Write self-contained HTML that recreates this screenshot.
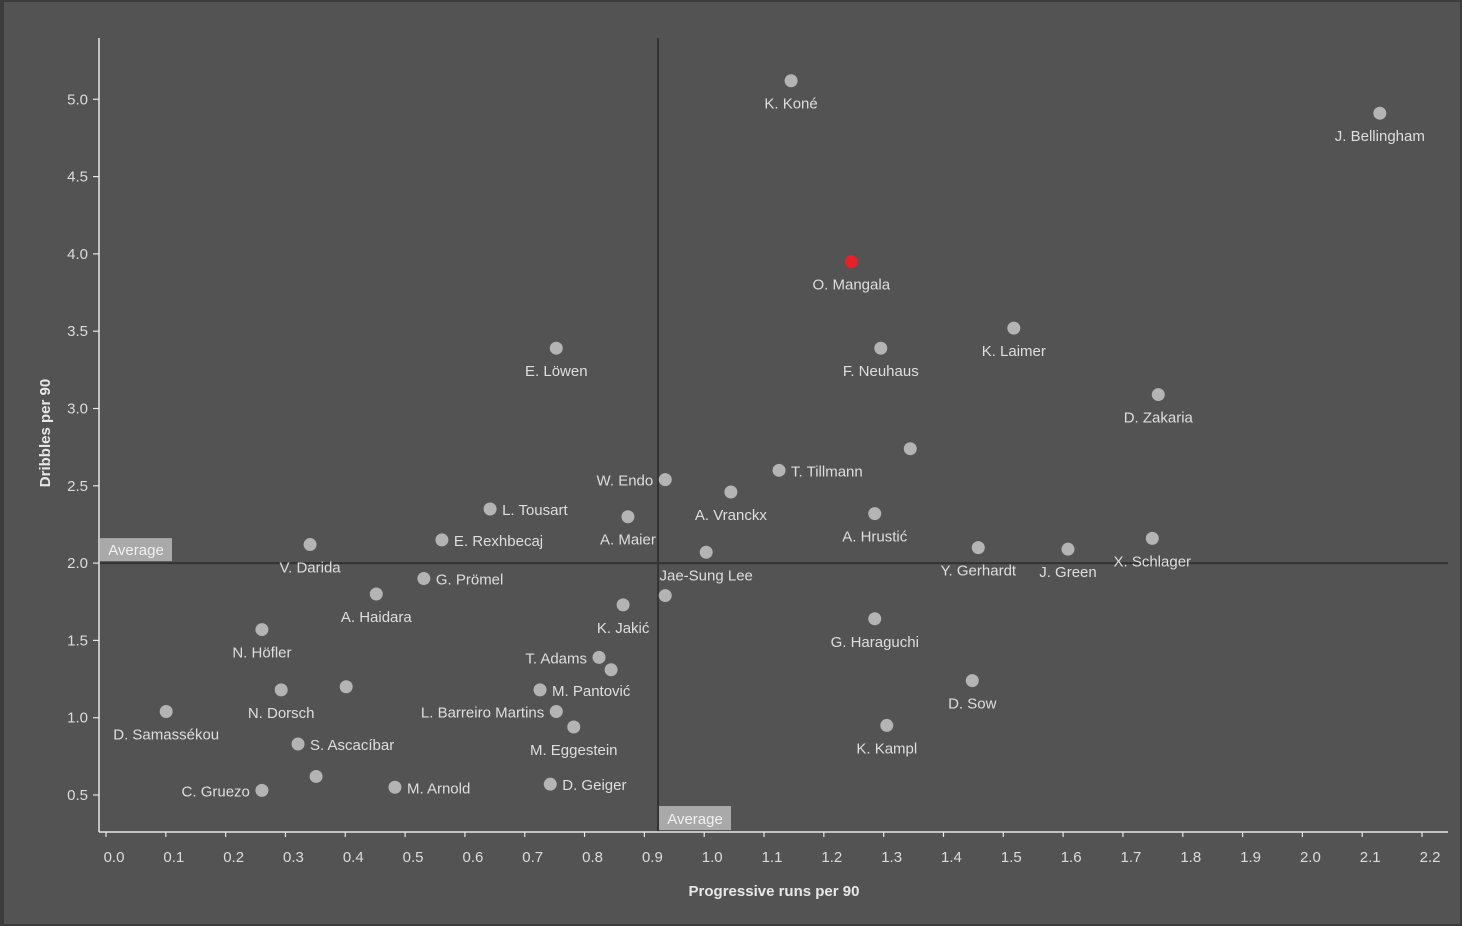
<!DOCTYPE html>
<html><head><meta charset="utf-8"><style>
body{margin:0;background:#3a3a3a;}
svg{display:block;font-family:"Liberation Sans","DejaVu Sans",sans-serif;}
</style></head><body>
<svg id="chart" width="1462" height="926">
<rect x="0" y="0" width="1462" height="926" fill="#3c3c3c"/>
<rect x="4" y="2" width="1456" height="922" fill="#535353"/>
<g id="grid"></g><g id="axes"></g><g id="marks"></g>
</svg>
<script>
const names=["K. Koné","J. Bellingham","O. Mangala","K. Laimer","F. Neuhaus","E. Löwen","D. Zakaria","","T. Tillmann","W. Endo","A. Vranckx","L. Tousart","A. Maier","A. Hrustić","E. Rexhbecaj","X. Schlager","V. Darida","Y. Gerhardt","J. Green","Jae-Sung Lee","G. Prömel","A. Haidara","","K. Jakić","G. Haraguchi","N. Höfler","T. Adams","","D. Sow","N. Dorsch","","M. Pantović","D. Samassékou","L. Barreiro Martins","M. Eggestein","K. Kampl","S. Ascacíbar","","M. Arnold","D. Geiger","C. Gruezo"];
const progRuns=[1.138,2.116,1.238,1.508,1.287,0.748,1.748,1.336,1.118,0.929,1.038,0.638,0.867,1.277,0.558,1.738,0.339,1.449,1.598,0.997,0.528,0.449,0.929,0.859,1.277,0.259,0.819,0.839,1.439,0.291,0.399,0.721,0.100,0.748,0.777,1.297,0.319,0.349,0.480,0.738,0.259];
const dribbles=[5.12,4.91,3.95,3.52,3.39,3.39,3.09,2.74,2.60,2.54,2.46,2.35,2.30,2.32,2.15,2.16,2.12,2.10,2.09,2.07,1.90,1.80,1.79,1.73,1.64,1.57,1.39,1.31,1.24,1.18,1.20,1.18,1.04,1.04,0.94,0.95,0.83,0.62,0.55,0.57,0.53];
const highlight="O. Mangala";
const xTicks=[0,0.1,0.2,0.3,0.4,0.5,0.6,0.7,0.8,0.9,1.0,1.1,1.2,1.3,1.4,1.5,1.6,1.7,1.8,1.9,2.0,2.1,2.2];
const yTicks=[0.5,1.0,1.5,2.0,2.5,3.0,3.5,4.0,4.5,5.0];
const avgX=0.917, avgY=2.0;
// label placement style: b=below, r=right, l=left
const labelPos=["b","b","b","b","b","b","b","","r","l","b","r","b","b","r","b","b","b","b","b","r","b","","b","b","b","l","","b","b","","r","b","l","b","b","r","","r","r","l"];

const X=v=>106+v*602, Y=v=>795-(v-0.5)*154.6;
const XL=v=>114+v*598.2;
const NS="http://www.w3.org/2000/svg";
function mk(parent,tag,attrs,text){const e=document.createElementNS(NS,tag);for(const k in attrs)e.setAttribute(k,attrs[k]);if(text!==undefined)e.textContent=text;document.getElementById(parent).appendChild(e);return e;}
let e=mk("axes","line",{x1:99,y1:38,x2:99,y2:832,stroke:"#e8e8e8","stroke-width":1.5});


e=mk("axes","line",{x1:99,y1:832,x2:1448,y2:832,stroke:"#e8e8e8","stroke-width":1.5});


xTicks.forEach(t=>{
 e=mk("axes","line",{x1:XL(t)-8,y1:832,x2:XL(t)-8,y2:837,stroke:"#e8e8e8","stroke-width":1.2});
 
 
 e=mk("axes","text",{x:XL(t),y:862,"text-anchor":"middle","font-size":15,fill:"#dcdcdc"},t.toFixed(1));
 
 
});
yTicks.forEach(t=>{
 e=mk("axes","line",{x1:93,y1:Y(t),x2:99,y2:Y(t),stroke:"#e8e8e8","stroke-width":1.2});
 
 
 e=mk("axes","text",{x:88,y:Y(t)+5,"text-anchor":"end","font-size":15,fill:"#dcdcdc"},t.toFixed(1));
 
 
});
e=mk("axes","text",{x:774,y:896,"text-anchor":"middle","font-size":15,"font-weight":"bold",fill:"#e8e8e8"},"Progressive runs per 90");


e=mk("axes","text",{x:50,y:433,"text-anchor":"middle","font-size":15,"font-weight":"bold",fill:"#e8e8e8",transform:"rotate(-90 50 433)"},"Dribbles per 90");


e=mk("grid","line",{x1:X(avgX),y1:38,x2:X(avgX),y2:832,stroke:"#333","stroke-width":2});


e=mk("grid","line",{x1:99,y1:Y(avgY),x2:1448,y2:Y(avgY),stroke:"#333","stroke-width":2});


e=mk("grid","rect",{x:100,y:Y(avgY)-25,width:72,height:23,fill:"#a9a9a9"});


e=mk("grid","text",{x:136,y:Y(avgY)-8,"text-anchor":"middle","font-size":15,fill:"#f0f0f0"},"Average");


e=mk("grid","rect",{x:X(avgX)+1,y:806,width:72,height:24,fill:"#a9a9a9"});


e=mk("grid","text",{x:X(avgX)+37,y:824,"text-anchor":"middle","font-size":15,fill:"#f0f0f0"},"Average");


progRuns.forEach((v,i)=>{
 const cx=X(v),cy=Y(dribbles[i]);
 const c=mk("marks","circle",{cx:cx,cy:cy,r:6.5,fill:names[i]===highlight?"#e8202a":"#b4b4b4"});
 
 
 const p=labelPos[i];
 if(!names[i]||!p)return;
 let a={"font-size":15,fill:"#dedede"};
 if(p==="b"){a.x=cx;a.y=cy+28;a["text-anchor"]="middle";}
 else if(p==="r"){a.x=cx+12;a.y=cy+6;a["text-anchor"]="start";}
 else {a.x=cx-12;a.y=cy+6;a["text-anchor"]="end";}
 const t=mk("marks","text",a,names[i]);
 
 
});
</script>
</body></html>
